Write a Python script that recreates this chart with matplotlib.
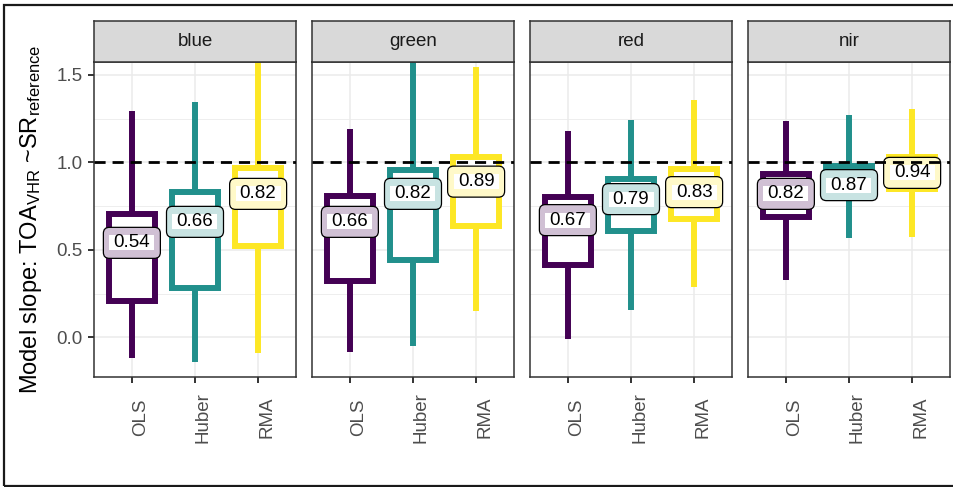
import matplotlib
matplotlib.use("Agg")
import matplotlib.pyplot as plt
from matplotlib.patches import Rectangle, FancyBboxPatch
from matplotlib.colors import to_rgb
from matplotlib.ticker import FixedLocator
from matplotlib.transforms import ScaledTranslation

plt.rcParams['font.family'] = ['Liberation Sans', 'DejaVu Sans']
plt.rcParams['mathtext.fontset'] = 'custom'
plt.rcParams['mathtext.rm'] = 'Liberation Sans'
plt.rcParams['mathtext.it'] = 'Liberation Sans:italic'

# data (per band: OLS, Huber, RMA)
bands = ["blue", "green", "red", "nir"]
methods = ["OLS", "Huber", "RMA"]
whisker_low = {
    "blue": [-0.12, -0.143, -0.092],
    "green": [-0.086, -0.048, 0.149],
    "red": [-0.01, 0.156, 0.289],
    "nir": [0.328, 0.569, 0.575],
}
q1 = {
    "blue": [0.21, 0.284, 0.52],
    "green": [0.324, 0.444, 0.635],
    "red": [0.415, 0.606, 0.678],
    "nir": [0.688, 0.84, 0.846],
}
median = {
    "blue": [0.54, 0.66, 0.82],
    "green": [0.66, 0.82, 0.89],
    "red": [0.67, 0.79, 0.83],
    "nir": [0.82, 0.87, 0.94],
}
q3 = {
    "blue": [0.705, 0.83, 0.968],
    "green": [0.808, 0.955, 1.03],
    "red": [0.804, 0.907, 0.964],
    "nir": [0.934, 0.979, 1.03],
}
whisker_high = {
    "blue": [1.294, 1.347, 1.65],
    "green": [1.189, 1.65, 1.544],
    "red": [1.181, 1.242, 1.357],
    "nir": [1.237, 1.271, 1.305],
}
colors = ["#440154", "#21908C", "#FDE725"]

W, H = 954, 487
fig = plt.figure(figsize=(W / 100, H / 100), dpi=100)

def fx(px):
    return px / W

def fy(py):
    return 1 - py / H

def tint(c, a=0.25):
    r, g, b = to_rgb(c)
    return (a * r + 1 - a, a * g + 1 - a, a * b + 1 - a)

panel_left = [94, 312, 530, 748]
panel_w, top, bottom, strip_top = 202, 62, 377, 21

# label box size in inches (drawn around the median point)
lab_w, lab_h = 0.57, 0.31
band_w, band_h = 0.45, 0.15

for i, band in enumerate(bands):
    ax = fig.add_axes([fx(panel_left[i]), fy(bottom), panel_w / W, (bottom - top) / H])
    stats = []
    for j, m in enumerate(methods):
        stats.append({
            "whislo": whisker_low[band][j], "q1": q1[band][j], "med": median[band][j],
            "q3": q3[band][j], "whishi": whisker_high[band][j], "label": m,
        })
    bp = ax.bxp(stats, positions=[1, 2, 3], widths=0.74, showcaps=False,
                showfliers=False, patch_artist=True)
    for j in range(3):
        box = bp['boxes'][j]
        box.set_facecolor('white')
        box.set_edgecolor(colors[j])
        box.set_linewidth(4.3)
        box.set_joinstyle('miter')
        box.set_zorder(3)
        for w in bp['whiskers'][2 * j:2 * j + 2]:
            w.set_color(colors[j])
            w.set_linewidth(4.3)
            w.set_solid_capstyle('butt')
            w.set_zorder(2)
        bp['medians'][j].set_color(colors[j])
        bp['medians'][j].set_linewidth(4.3)
        bp['medians'][j].set_zorder(3)

        med = median[band][j]
        trans = fig.dpi_scale_trans + ScaledTranslation(j + 1, med, ax.transData)
        ax.add_patch(FancyBboxPatch((-lab_w / 2, -lab_h / 2), lab_w, lab_h,
                                    boxstyle='round,pad=0,rounding_size=0.06',
                                    facecolor=tint(colors[j]), edgecolor='black',
                                    linewidth=0.9, transform=trans, zorder=5))
        ax.add_patch(Rectangle((-band_w / 2, -band_h / 2), band_w, band_h,
                               facecolor='white', edgecolor='none',
                               transform=trans, zorder=6))
        ax.text(j + 1, med, f"{med:.2f}", ha='center', va='center', fontsize=13.5,
                color='black', zorder=7)

    ax.axhline(1.0, color='black', lw=2.0, ls=(0, (4, 2.5)), zorder=10)

    ax.set_xlim(0.4, 3.6)
    ax.set_ylim(-0.227, 1.574)
    ax.set_yticks([0.0, 0.5, 1.0, 1.5])
    ax.yaxis.set_minor_locator(FixedLocator([0.25, 0.75, 1.25]))
    ax.set_xticks([1, 2, 3])
    ax.set_xticklabels(methods, rotation=90, ha='left', va='center')
    ax.grid(which='major', color='#EBEBEB', lw=1.1)
    ax.grid(which='minor', axis='y', color='#EBEBEB', lw=0.6)
    ax.set_axisbelow(True)
    for s in ax.spines.values():
        s.set_color('#333333')
        s.set_linewidth(1.1)
    ax.tick_params(which='major', length=4.5, width=1.4, color='#333333',
                   labelsize=13.5, labelcolor='#4D4D4D')
    ax.tick_params(axis='x', pad=24.5)
    ax.tick_params(axis='y', pad=3.5)
    ax.tick_params(which='minor', length=0)
    if i == 0:
        ax.set_yticklabels(["0.0", "0.5", "1.0", "1.5"])
    else:
        ax.set_yticklabels([])
        ax.tick_params(axis='y', length=0)

    sax = fig.add_axes([fx(panel_left[i]), fy(top), panel_w / W, (top - strip_top) / H])
    sax.set_facecolor('#D9D9D9')
    sax.set_xticks([])
    sax.set_yticks([])
    for s in sax.spines.values():
        s.set_color('#333333')
        s.set_linewidth(1.1)
    sax.text(0.5, 0.5, band, ha='center', va='center', fontsize=13.5,
             color='#1A1A1A', transform=sax.transAxes)

fig.text(fx(18), fy((top + bottom) / 2),
         r"Model slope: TOA$_{\mathrm{VHR}}$ ~SR$_{\mathrm{reference}}$",
         rotation=90, ha='left', va='center', fontsize=17, color='black')

fig.patches.append(Rectangle((fx(4), fy(486)), 1.2, (486 - 5) / H, transform=fig.transFigure,
                             fill=False, edgecolor='#1A1A1A', linewidth=1.6))

fig.savefig("out.png", dpi=100)
